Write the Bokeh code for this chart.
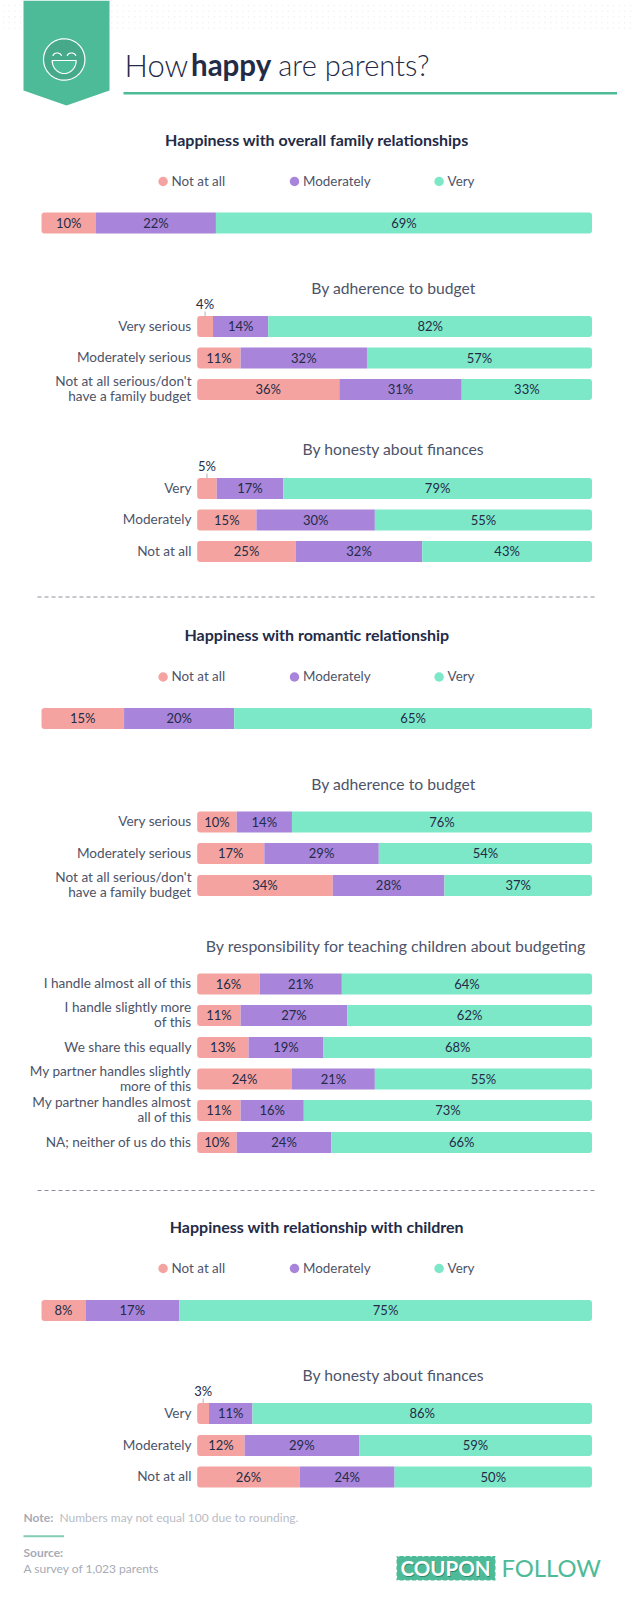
import numpy as np
from bokeh.plotting import figure
from bokeh.models import Range1d
from bokeh.core.properties import value
from bokeh.embed import file_html
from bokeh.resources import INLINE

# ---------- data ----------
series_names = ["Not at all", "Moderately", "Very"]
overall_family = [10, 22, 69]
overall_romantic = [15, 20, 65]
overall_children = [8, 17, 75]

budget_labels = ["Very serious", "Moderately serious", "Not at all serious/don't\nhave a family budget"]
honesty_labels = ["Very", "Moderately", "Not at all"]
teaching_labels = ["I handle almost all of this", "I handle slightly more\nof this", "We share this equally",
                   "My partner handles slightly\nmore of this", "My partner handles almost\nall of this",
                   "NA; neither of us do this"]

family_budget_not = [4, 11, 36]
family_budget_mod = [14, 32, 31]
family_budget_very = [82, 57, 33]
family_honesty_not = [5, 15, 25]
family_honesty_mod = [17, 30, 32]
family_honesty_very = [79, 55, 43]
romantic_budget_not = [10, 17, 34]
romantic_budget_mod = [14, 29, 28]
romantic_budget_very = [76, 54, 37]
teaching_not = [16, 11, 13, 24, 11, 10]
teaching_mod = [21, 27, 19, 21, 16, 24]
teaching_very = [64, 62, 68, 55, 73, 66]
children_honesty_not = [3, 12, 26]
children_honesty_mod = [11, 29, 24]
children_honesty_very = [86, 59, 50]

# ---------- styles ----------
PINK, PURPLE, MINT = "#f4a3a0", "#a884da", "#7de8c8"
GREEN = "#4dbb98"
DARK = "#232b47"
LABEL = "#4d5369"
SOFT = "#a7abb6"
FONT = "Lato"
FW, FH = 631, 1600

p = figure(width=FW, height=FH, output_backend="svg", toolbar_location=None,
           x_range=Range1d(0, FW), y_range=Range1d(FH, 0),
           min_border=0, outline_line_color=None, x_axis_type=None, y_axis_type=None)
p.grid.visible = False
p.background_fill_color = "white"


def scale_range(x0, x1):
    s = (x1 - x0) / 100.0
    return Range1d(-x0 / s, (FW - x0) / s)


p.extra_x_ranges = {"wide": scale_range(41, 591.5), "sub": scale_range(196.7, 591.5)}


def txt(x, y, s, size=13.5, color=LABEL, align="left", font=FONT, style="normal"):
    p.text(x=[x], y=[y - 1], text=[s], text_font=value(font), text_font_size=f"{size}px",
           text_color=color, text_align=align, text_baseline="middle", text_font_style=style)


def bars(rows, not_v, mod_v, very_v, rng, small=()):
    n = np.array(not_v, float); m = np.array(mod_v, float); v = np.array(very_v, float)
    tot = n + m + v
    a = n / tot * 100; b = (n + m) / tot * 100
    rows = list(rows)
    h = 21
    p.hbar(y=rows, left=0, right=a, height=h, color=PINK, line_color=None, x_range_name=rng, border_radius=(3, 0, 0, 3))
    p.hbar(y=rows, left=a, right=b, height=h, color=PURPLE, line_color=None, x_range_name=rng)
    p.hbar(y=rows, left=b, right=100, height=h, color=MINT, line_color=None, x_range_name=rng, border_radius=(0, 3, 3, 0))
    for i, r in enumerate(rows):
        lx = [a[i] / 2, (a[i] + b[i]) / 2, (b[i] + 100) / 2]
        for x_, val, k in zip(lx, (n[i], m[i], v[i]), range(3)):
            y_ = r - 23 if (k == 0 and i in small) else r - 0.5
            p.text(x=[x_], y=[y_], text=[f"{val:.0f}%"], x_range_name=rng, text_font=value(FONT),
                   text_font_size="13px", text_color=DARK, text_align="center", text_baseline="middle")
            if k == 0 and i in small:
                p.segment(x0=[x_], x1=[x_], y0=[r - 15], y1=[r - 10.5], x_range_name=rng, line_color="#9a9ea8", line_width=0.8)


def cat_labels(rows, labels):
    for r, s in zip(rows, labels):
        parts = s.split("\n")
        for j, part in enumerate(parts):
            txt(191, r + (j - (len(parts) - 1) / 2) * 15, part, 13.6, LABEL, "right")


def legend(y):
    xs = [162.6, 294, 438.6]
    p.scatter(x=xs, y=[y] * 3, size=9.5, color=[PINK, PURPLE, MINT], line_color=None)
    for x, s in zip(xs, series_names):
        txt(x + 8.5, y, s, 13.4, LABEL)


# ---------- header ----------
dx, dy = np.meshgrid(np.arange(3, 631, 5.7), np.arange(5, 32, 5.7))
p.scatter(x=dx.ravel(), y=dy.ravel(), size=1.6, color="#eef2f1", line_color=None)
p.patch(x=[23, 109, 109, 66, 23], y=[0, 0, 90, 105, 90], color=GREEN, line_color=None)
t = np.linspace(0, 2 * np.pi, 80)
p.patch(x=63.7 + 20.7 * np.cos(t), y=59 + 20.7 * np.sin(t), fill_color="#46a98a", line_color="white", line_width=1.2)
tm = np.linspace(0, np.pi, 30)
p.patch(x=63.7 + 12 * np.cos(tm), y=60 + 13 * np.sin(tm), fill_color=GREEN, line_color="white", line_width=1.2)
for ex in (56.7, 71):
    te = np.linspace(np.pi, 2 * np.pi, 14)
    p.line(x=ex + 4.2 * np.cos(te), y=55.5 + 3 * np.sin(te), line_color="white", line_width=1.2)

txt(124, 65, "How", 31, DARK, font="Lato Light")
txt(190.5, 65, "happy", 29.5, DARK, style="bold")
txt(277.7, 65, "are parents?", 29, DARK, font="Lato Light")
p.line(x=[123, 616.5], y=[92.7, 92.7], line_color=GREEN, line_width=2.5)

# ---------- section 1 ----------
txt(316.5, 140, "Happiness with overall family relationships", 16, DARK, "center", style="bold")
legend(181)
bars([222.5], [overall_family[0]], [overall_family[1]], [overall_family[2]], "wide")

txt(393, 288, "By adherence to budget", 15.7, LABEL, "center")
rows = [326, 357.5, 389]
cat_labels(rows, budget_labels)
bars(rows, family_budget_not, family_budget_mod, family_budget_very, "sub", small=(0,))

txt(393, 449, "By honesty about finances", 15.7, LABEL, "center")
rows = [488, 519.5, 551]
cat_labels(rows, honesty_labels)
bars(rows, family_honesty_not, family_honesty_mod, family_honesty_very, "sub", small=(0,))

p.line(x=[37, 595], y=[596.5, 596.5], line_color="#8a8f99", line_width=1, line_dash="4 3")

# ---------- section 2 ----------
txt(316.5, 635, "Happiness with romantic relationship", 16, DARK, "center", style="bold")
legend(676.5)
bars([718], [overall_romantic[0]], [overall_romantic[1]], [overall_romantic[2]], "wide")

txt(393, 784, "By adherence to budget", 15.7, LABEL, "center")
rows = [821.5, 853, 885]
cat_labels(rows, budget_labels)
bars(rows, romantic_budget_not, romantic_budget_mod, romantic_budget_very, "sub")

txt(395.5, 946, "By responsibility for teaching children about budgeting", 15.9, LABEL, "center")
rows = [983.5, 1015, 1047, 1078.5, 1110, 1142]
cat_labels(rows, teaching_labels)
bars(rows, teaching_not, teaching_mod, teaching_very, "sub")

p.line(x=[37, 595], y=[1190, 1190], line_color="#8a8f99", line_width=1, line_dash="4 3")

# ---------- section 3 ----------
txt(316.5, 1226.5, "Happiness with relationship with children", 16, DARK, "center", style="bold")
legend(1268)
bars([1310], [overall_children[0]], [overall_children[1]], [overall_children[2]], "wide")

txt(393, 1375.5, "By honesty about finances", 15.7, LABEL, "center")
rows = [1413, 1445, 1476.5]
cat_labels(rows, honesty_labels)
bars(rows, children_honesty_not, children_honesty_mod, children_honesty_very, "sub", small=(0,))

# ---------- footer ----------
txt(23, 1518, "Note:", 12, SOFT, style="bold")
txt(59, 1518, "Numbers may not equal 100 due to rounding.", 12, "#b9bcc5")
p.line(x=[23, 63.6], y=[1535.7, 1535.7], line_color="#82cdb6", line_width=2)
txt(23, 1553, "Source:", 12, SOFT, style="bold")
txt(23, 1569, "A survey of 1,023 parents", 12, SOFT)

# ---------- logo ----------
p.quad(left=[396], right=[495], top=[1555.5], bottom=[1580], color=GREEN, line_color=None)
sx = np.arange(398, 495, 6.2)
p.scatter(x=np.r_[sx, sx], y=np.r_[[1555] * len(sx), [1580.5] * len(sx)], size=2.5, color="white", line_color=None)
sy = np.arange(1558, 1580, 6.2)
p.scatter(x=np.r_[[395.5] * len(sy), [495.5] * len(sy)], y=np.r_[sy, sy], size=2.5, color="white", line_color=None)
txt(445.7, 1569.5, "COUPON", 20.5, "#2f8a6e", "center", style="bold")
txt(445, 1568.5, "COUPON", 20.5, "white", "center", style="bold")
txt(501, 1568.5, "FOLLOW", 23.8, GREEN)

open("out.html", "w").write(file_html(p, INLINE))
